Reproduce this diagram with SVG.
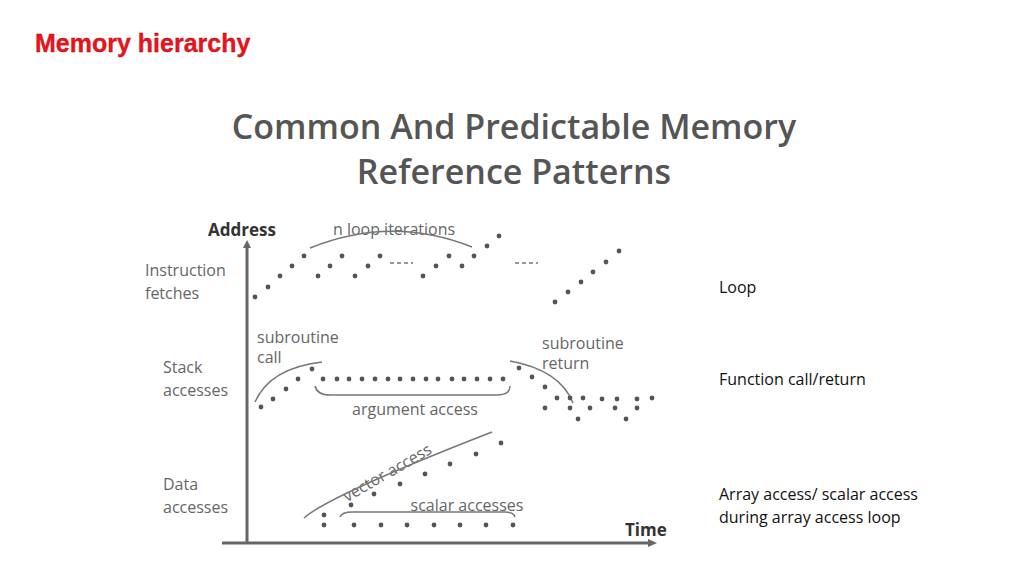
<svg xmlns="http://www.w3.org/2000/svg" width="1024" height="576" viewBox="0 0 1024 576">
<style>
.l{font-family:"Open Sans","Liberation Sans",sans-serif;fill:#666;font-size:16px}
.b{font-weight:bold;fill:#333;font-size:17px}
.r{font-family:"Open Sans","Liberation Sans",sans-serif;fill:#111;font-size:16px}
.c{fill:none;stroke:#777;stroke-width:1.5}
.d circle{fill:#555}
</style>
<rect width="1024" height="576" fill="#fff"/>
<text x="35" y="52" font-family="Liberation Sans,sans-serif" font-weight="bold" font-size="25" fill="#e8141e" stroke="#b00" stroke-width="0.3">Memory hierarchy</text>
<g id="title" font-family="Open Sans,Liberation Sans,sans-serif" font-size="34" font-weight="600" fill="#555" text-anchor="middle">
<text x="514" y="139">Common And Predictable Memory</text>
<text x="514" y="184">Reference Patterns</text>
</g>
<g id="axes" stroke="#666" stroke-width="3" fill="none">
<line x1="247" y1="544" x2="247" y2="244"/>
<line x1="222" y1="543" x2="652" y2="543"/>
<path d="M243 248 L247 240 L251 248Z M648 539 L657 543 L648 547Z" fill="#666" stroke="none"/>
</g>
<g id="labels" class="l">
<text x="276" y="236" text-anchor="end" class="l b">Address</text>
<text x="145" y="276">Instruction</text><text x="145" y="299">fetches</text>
<text x="163" y="373">Stack</text><text x="163" y="396">accesses</text>
<text x="163" y="490">Data</text><text x="163" y="513">accesses</text>
<text x="394" y="235" text-anchor="middle">n loop iterations</text>
<text x="257" y="343">subroutine</text><text x="257" y="363">call</text>
<text x="542" y="349">subroutine</text><text x="542" y="369">return</text>
<text x="415" y="415" text-anchor="middle">argument access</text>
<text x="467" y="511" text-anchor="middle">scalar accesses</text>
<text x="388" y="478" text-anchor="middle" transform="rotate(-30 388 474)">vector access</text>
<text x="625" y="536" class="l b">Time</text>
</g>
<g id="connectors" class="c">
<path d="M310 248 Q392 215 472 247"/>
<path d="M255 402 Q270 368 322 362"/>
<path d="M510 361 Q560 370 573 403"/>
<path d="M315 386 Q317 395 330 395 L497 395 Q510 395 510 386"/>
<path d="M304 518 Q330 495 492 432"/>
<path d="M340 517 Q342 512 352 512 L505 512 Q514 512 515 517"/>
<path d="M390 263 h23 M515 263 h23" stroke-dasharray="4 3"/>
</g>
<g id="dots" class="d">
<circle cx="255" cy="297" r="2.4"/><circle cx="268" cy="287" r="2.4"/><circle cx="280" cy="276" r="2.4"/><circle cx="292" cy="266" r="2.4"/><circle cx="304" cy="256" r="2.4"/>
<circle cx="318" cy="276" r="2.4"/><circle cx="330" cy="266" r="2.4"/><circle cx="342" cy="256" r="2.4"/><circle cx="355" cy="276" r="2.4"/><circle cx="368" cy="266" r="2.4"/><circle cx="380" cy="256" r="2.4"/>
<circle cx="423" cy="276" r="2.4"/><circle cx="436" cy="266" r="2.4"/><circle cx="449" cy="256" r="2.4"/><circle cx="462" cy="266" r="2.4"/><circle cx="474" cy="256" r="2.4"/><circle cx="487" cy="246" r="2.4"/><circle cx="499" cy="236" r="2.4"/>
<circle cx="555" cy="302" r="2.4"/><circle cx="568" cy="292" r="2.4"/><circle cx="581" cy="282" r="2.4"/><circle cx="593" cy="272" r="2.4"/><circle cx="606" cy="262" r="2.4"/><circle cx="619" cy="251" r="2.4"/>
<circle cx="261" cy="407" r="2.4"/><circle cx="273" cy="399" r="2.4"/><circle cx="286" cy="389" r="2.4"/><circle cx="298" cy="379" r="2.4"/><circle cx="312" cy="369" r="2.4"/>
<circle cx="323" cy="379" r="2.4"/><circle cx="337" cy="379" r="2.4"/><circle cx="349" cy="379" r="2.4"/><circle cx="362" cy="379" r="2.4"/><circle cx="375" cy="379" r="2.4"/><circle cx="388" cy="379" r="2.4"/><circle cx="400" cy="379" r="2.4"/><circle cx="413" cy="379" r="2.4"/><circle cx="426" cy="379" r="2.4"/><circle cx="438" cy="379" r="2.4"/><circle cx="452" cy="379" r="2.4"/><circle cx="464" cy="379" r="2.4"/><circle cx="477" cy="379" r="2.4"/><circle cx="490" cy="379" r="2.4"/><circle cx="503" cy="379" r="2.4"/>
<circle cx="519" cy="368" r="2.4"/><circle cx="532" cy="377" r="2.4"/><circle cx="545" cy="387" r="2.4"/><circle cx="557" cy="398" r="2.4"/><circle cx="570" cy="398" r="2.4"/><circle cx="583" cy="398" r="2.4"/><circle cx="602" cy="399" r="2.4"/><circle cx="617" cy="399" r="2.4"/><circle cx="637" cy="399" r="2.4"/><circle cx="652" cy="398" r="2.4"/>
<circle cx="545" cy="408" r="2.4"/><circle cx="570" cy="408" r="2.4"/><circle cx="590" cy="408" r="2.4"/><circle cx="615" cy="408" r="2.4"/><circle cx="637" cy="408" r="2.4"/><circle cx="578" cy="419" r="2.4"/><circle cx="626" cy="419" r="2.4"/>
<circle cx="324" cy="515" r="2.4"/><circle cx="351" cy="505" r="2.4"/><circle cx="374" cy="494" r="2.4"/><circle cx="400" cy="484" r="2.4"/><circle cx="425" cy="474" r="2.4"/><circle cx="450" cy="464" r="2.4"/><circle cx="476" cy="454" r="2.4"/><circle cx="501" cy="443" r="2.4"/>
<circle cx="324" cy="525" r="2.4"/><circle cx="354" cy="525" r="2.4"/><circle cx="381" cy="525" r="2.4"/><circle cx="407" cy="525" r="2.4"/><circle cx="434" cy="525" r="2.4"/><circle cx="460" cy="525" r="2.4"/><circle cx="486" cy="525" r="2.4"/><circle cx="513" cy="525" r="2.4"/>
</g>
<g id="notes" class="r">
<text x="719" y="293">Loop</text>
<text x="719" y="385">Function call/return</text>
<text x="719" y="500">Array access/ scalar access</text>
<text x="719" y="523">during array access loop</text>
</g>
</svg>
